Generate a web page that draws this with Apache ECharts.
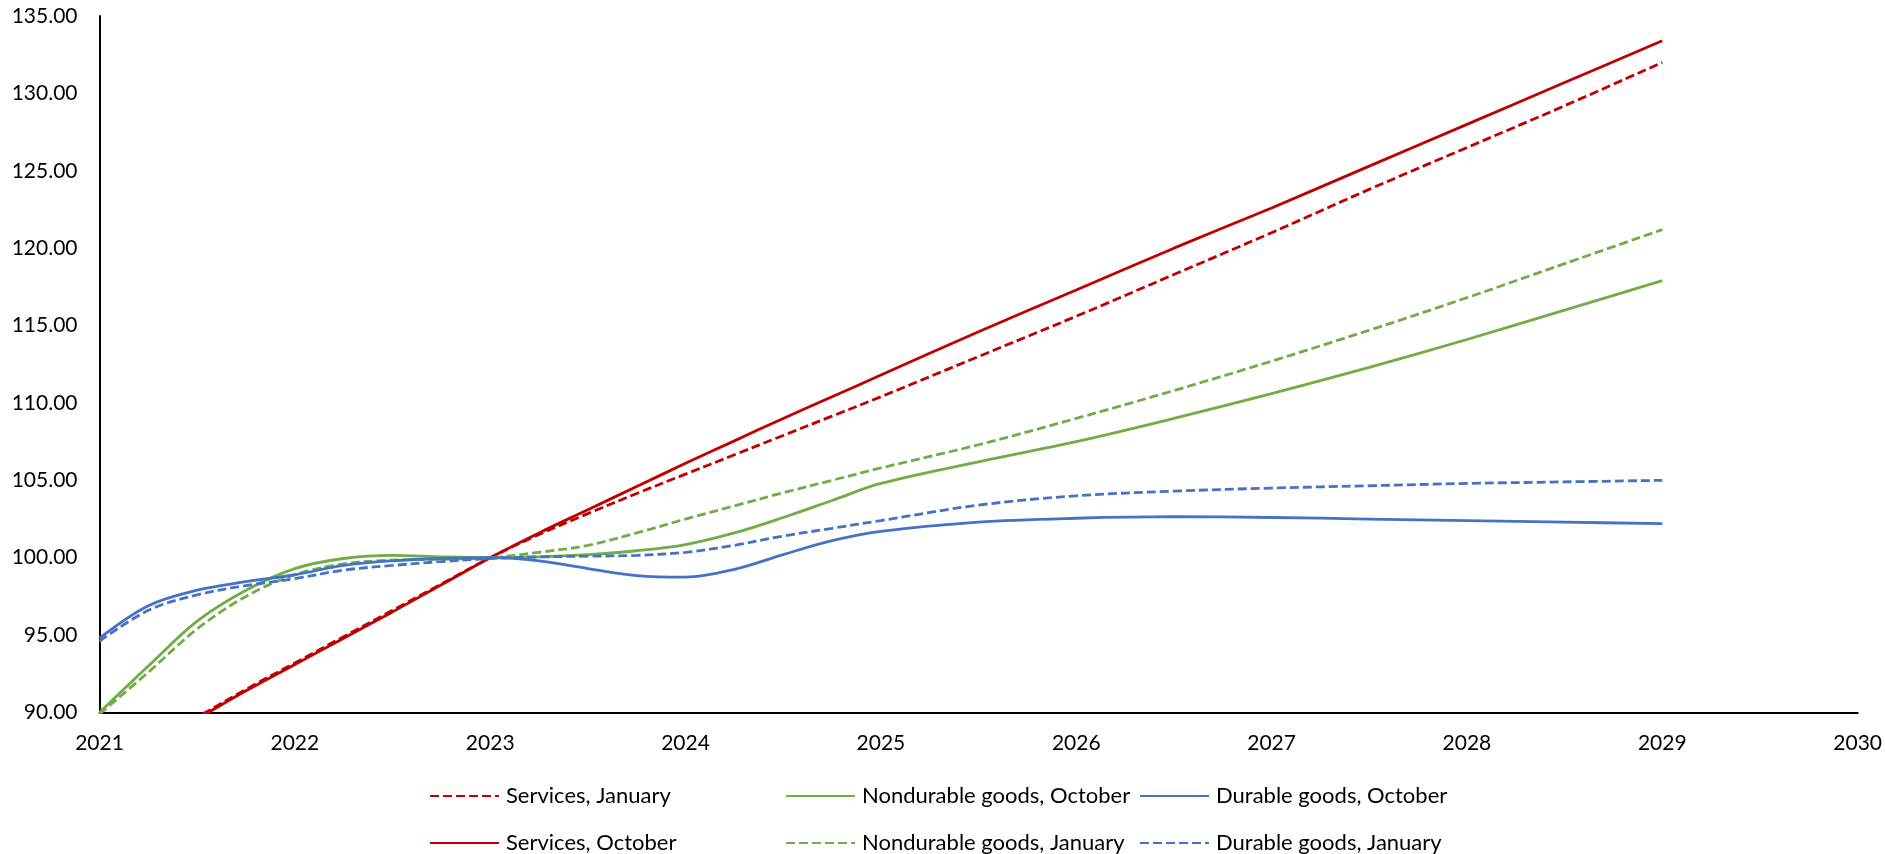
<!DOCTYPE html>
<html>
<head>
<meta charset="utf-8">
<script src="https://cdn.jsdelivr.net/npm/echarts@6/dist/echarts.min.js"></script>
<style>
html,body{margin:0;padding:0;background:#fff;}
#chart{width:1885px;height:854px;}
</style>
</head>
<body>
<div id="chart"></div>
<script>
// Shared x positions (years)
const years = [2021, 2021.25, 2021.5, 2021.75, 2022, 2022.25, 2022.5, 2022.75, 2023,
  2023.25, 2023.5, 2023.75, 2024, 2024.25, 2024.5, 2024.75, 2025,
  2025.5, 2026, 2026.5, 2027, 2027.5, 2028, 2028.5, 2029];

const servicesJanuary = [86.3, 88.0, 89.7, 91.5, 93.2, 94.9, 96.6, 98.3, 100.0,
  101.5, 102.85, 104.15, 105.4, 106.65, 107.9, 109.15, 110.4,
  113.0, 115.6, 118.3, 121.0, 123.8, 126.5, 129.2, 132.0];

const servicesOctober = [86.2, 87.9, 89.6, 91.4, 93.1, 94.8, 96.5, 98.25, 100.0,
  101.6, 103.1, 104.6, 106.1, 107.55, 109.0, 110.4, 111.8,
  114.6, 117.3, 120.0, 122.6, 125.3, 128.0, 130.7, 133.4];

const nondurableOctober = [90.0, 93.0, 95.9, 97.9, 99.3, 99.95, 100.15, 100.05, 100.0,
  100.05, 100.2, 100.45, 100.85, 101.6, 102.6, 103.7, 104.8,
  106.2, 107.5, 109.0, 110.6, 112.3, 114.1, 116.0, 117.9];

const nondurableJanuary = [89.9, 92.6, 95.4, 97.5, 98.9, 99.6, 99.85, 99.9, 100.0,
  100.35, 100.8, 101.6, 102.5, 103.35, 104.2, 105.0, 105.8,
  107.3, 109.0, 110.8, 112.7, 114.7, 116.8, 119.0, 121.2];

const durableOctober = [94.8, 96.9, 97.9, 98.45, 98.9, 99.5, 99.8, 99.95, 100.0,
  99.8, 99.3, 98.85, 98.75, 99.25, 100.2, 101.1, 101.7,
  102.3, 102.55, 102.65, 102.6, 102.5, 102.4, 102.3, 102.2];

const durableJanuary = [94.6, 96.6, 97.6, 98.2, 98.65, 99.2, 99.5, 99.75, 99.95,
  100.05, 100.1, 100.15, 100.35, 100.8, 101.4, 101.9, 102.4,
  103.4, 104.0, 104.3, 104.5, 104.65, 104.8, 104.9, 105.0];

// Legend layout: columns of series names
const legendColumns = [
  ['Services, January', 'Services, October'],
  ['Nondurable goods, October', 'Nondurable goods, January'],
  ['Durable goods, October', 'Durable goods, January']
];

const RED = '#C00000', GREEN = '#70AD47', BLUE = '#4472C4';
const FONT = 'Lato';
const DASH = [9, 4];

function pairs(vals){ return years.map((x,i)=>[x, vals[i]]); }
function mk(name, vals, color, dashed){
  return {
    name: name, type: 'line', data: pairs(vals),
    smooth: 0.35, showSymbol: false, symbol: 'none', clip: true,
    lineStyle: {color: color, width: 2.8, type: dashed ? DASH : 'solid', cap: 'butt'},
    itemStyle: {color: color},
    emphasis: {disabled: true}
  };
}

const colLeft = [429, 785, 1139];
const rowTop = [785, 832];
const legends = [];
legendColumns.forEach((col, ci) => {
  col.forEach((name, ri) => {
    legends.push({
      orient: 'horizontal', left: colLeft[ci], top: rowTop[ri], padding: 0,
      itemWidth: 69, itemHeight: 20, selectedMode: false,
      itemStyle: {opacity: 0},
      data: [name],
      textStyle: {fontFamily: FONT, fontSize: 22, color: '#000', padding: [0,0,0,2]}
    });
  });
});

const chart = echarts.init(document.getElementById('chart'), null, {renderer: 'canvas'});
chart.setOption({
  animation: false,
  backgroundColor: '#fff',
  grid: {left: 99.5, right: 26, top: 16, bottom: 141.5},
  legend: legends,
  xAxis: {
    type: 'value', min: 2021, max: 2030, interval: 1,
    axisLine: {show: true, lineStyle: {color: '#000', width: 2}},
    axisTick: {show: false},
    splitLine: {show: false},
    axisLabel: {formatter: v => String(v), fontFamily: FONT, fontSize: 21, color: '#000', margin: 20}
  },
  yAxis: {
    type: 'value', min: 90, max: 135, interval: 5,
    axisLine: {show: true, lineStyle: {color: '#000', width: 2}},
    axisTick: {show: false},
    splitLine: {show: false},
    axisLabel: {formatter: v => v.toFixed(2), fontFamily: FONT, fontSize: 21, color: '#000', margin: 22}
  },
  series: [
    mk('Services, January', servicesJanuary, RED, true),
    mk('Services, October', servicesOctober, RED, false),
    mk('Nondurable goods, January', nondurableJanuary, GREEN, true),
    mk('Nondurable goods, October', nondurableOctober, GREEN, false),
    mk('Durable goods, January', durableJanuary, BLUE, true),
    mk('Durable goods, October', durableOctober, BLUE, false)
  ]
});
</script>
</body>
</html>
